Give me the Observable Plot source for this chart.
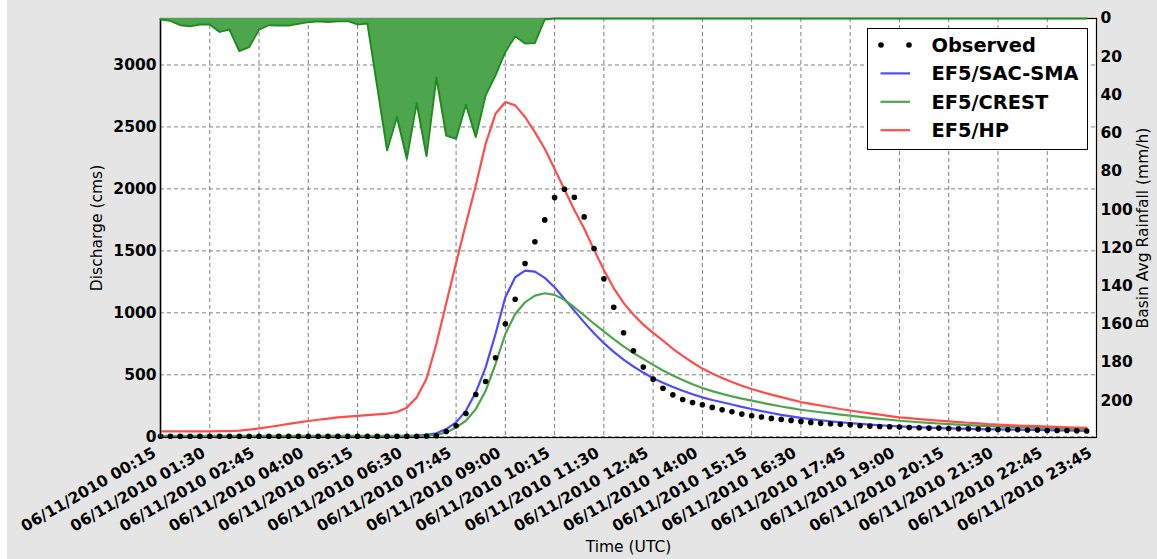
<!DOCTYPE html>
<html>
<head>
<meta charset="utf-8">
<script src="https://cdn.jsdelivr.net/npm/d3@7"></script>
<script src="https://cdn.jsdelivr.net/npm/@observablehq/plot@0.6"></script>
<style>
html, body { margin: 0; padding: 0; background: #ffffff; }
#wrap { position: relative; width: 1157px; height: 559px; background: #ffffff; font-family: "DejaVu Sans", sans-serif; }
#bg { position: absolute; left: 7px; top: 0; width: 1150px; height: 559px; background: #e5e5e5; }
#wrap svg.plotlayer { position: absolute; left: 0; top: 0; }
g[aria-label="x-axis tick label"] text, g[aria-label="y-axis tick label"] text { font-weight: bold; }
g[aria-label="x-axis label"] text, g[aria-label="y-axis label"] text { font-weight: normal; }
#legend { position: absolute; left: 867px; top: 28px; }
</style>
</head>
<body>
<div id="wrap"><div id="bg"></div></div>
<script>
// 15-minute steps, 00:15 (step 0) to 23:45 (step 94)
const steps = d3.range(95);

// x tick positions (in steps) and their labels
const tickSteps = [0, 5, 10, 15, 20, 25, 30, 35, 40, 45, 50, 55, 60, 65, 70, 75, 80, 85, 90, 95];
const tickLabels = [
  "06/11/2010 00:15", "06/11/2010 01:30", "06/11/2010 02:45", "06/11/2010 04:00",
  "06/11/2010 05:15", "06/11/2010 06:30", "06/11/2010 07:45", "06/11/2010 09:00",
  "06/11/2010 10:15", "06/11/2010 11:30", "06/11/2010 12:45", "06/11/2010 14:00",
  "06/11/2010 15:15", "06/11/2010 16:30", "06/11/2010 17:45", "06/11/2010 19:00",
  "06/11/2010 20:15", "06/11/2010 21:30", "06/11/2010 22:45", "06/11/2010 23:45"
];
const dischargeTicks = [0, 500, 1000, 1500, 2000, 2500, 3000];
const rainTicks = [0, 20, 40, 60, 80, 100, 120, 140, 160, 180, 200];

// Observed discharge (cms)
const observed = [
  4, 4, 4, 4, 4, 4, 4, 4, 4, 4, 4, 4, 4, 4, 4, 4, 4, 4, 4, 4, 4, 4, 4, 4, 4, 4, 4, 5,
  8, 43, 89, 188, 341, 446, 637, 911, 1110, 1398, 1573, 1750, 1930, 1997, 1933, 1774,
  1519, 1274, 1045, 839, 694, 562, 465, 391, 338, 301, 277, 258, 237, 218, 202, 183,
  169, 159, 148, 140, 132, 124, 116, 108, 105, 100, 97, 89, 86, 83, 81, 78, 75, 73,
  70, 70, 67, 65, 65, 62, 59, 59, 56, 56, 54, 54, 51, 51, 51, 48, 46
];
// EF5/SAC-SMA simulated discharge (cms)
const sacSma = [
  5, 5, 5, 5, 5, 5, 5, 5, 5, 5, 5, 5, 5, 5, 5, 5, 5, 5, 5, 5, 5, 5, 5, 5, 5,
  7, 9, 15, 28, 62, 116, 210, 358, 560, 829, 1125, 1287, 1341, 1333, 1282, 1206,
  1112, 1018, 923, 835, 755, 685, 622, 567, 518, 472, 436, 402, 371, 343, 318,
  297, 278, 260, 241, 224, 207, 192, 177, 164, 152, 142, 133, 124, 117, 110,
  104, 98, 93, 88, 84, 80, 76, 73, 70, 67, 65, 63, 61, 60, 59, 58, 57, 56, 55,
  54, 52, 51, 49, 48
];
// EF5/CREST simulated discharge (cms)
const crest = [
  8, 8, 8, 8, 8, 8, 8, 8, 8, 8, 8, 8, 8, 8, 8, 8, 8, 8, 8, 8, 8, 8, 8, 8, 8, 8, 8,
  10, 14, 35, 75, 129, 223, 371, 587, 829, 991, 1085, 1139, 1158, 1145, 1105, 1045,
  980, 912, 850, 788, 730, 676, 628, 580, 535, 495, 458, 424, 394, 368, 346, 326,
  308, 291, 275, 259, 244, 231, 218, 208, 198, 188, 179, 170, 161, 153, 145, 137,
  129, 123, 117, 112, 107, 102, 98, 94, 90, 86, 83, 80, 77, 75, 72, 70, 67, 64, 61, 59
];
// EF5/HP simulated discharge (cms)
const hp = [
  43, 43, 43, 43, 44, 44, 45, 46, 50, 58, 67, 79, 91, 104, 116, 127, 137, 147, 156,
  163, 169, 175, 180, 186, 200, 235, 317, 468, 749, 1077, 1403, 1718, 2027, 2364,
  2606, 2701, 2674, 2580, 2458, 2324, 2160, 1995, 1830, 1680, 1510, 1345, 1200,
  1080, 985, 905, 838, 775, 710, 652, 599, 550, 510, 475, 442, 412, 385, 362, 340,
  320, 300, 280, 266, 252, 238, 224, 212, 200, 189, 178, 167, 157, 150, 143, 136,
  130, 124, 118, 113, 108, 102, 98, 95, 91, 88, 85, 82, 79, 76, 73, 71
];
// Basin average rainfall (mm/h)
const rainfall = [
  0.5, 1.2, 3.5, 4.0, 3.1, 3.1, 7.0, 5.8, 17.0, 14.9, 5.8, 3.5, 3.7, 3.7, 2.8, 1.9,
  1.4, 1.8, 1.4, 1.4, 3.1, 2.6, 35.8, 69.0, 51.6, 73.4, 44.2, 72.0, 30.9, 61.3, 62.9,
  45.1, 62.0, 40.2, 29.7, 17.5, 9.3, 13.1, 12.8, 0.5,
  0, 0, 0, 0, 0, 0, 0, 0, 0, 0, 0, 0, 0, 0, 0, 0, 0, 0, 0, 0, 0, 0, 0, 0, 0, 0, 0, 0,
  0, 0, 0, 0, 0, 0, 0, 0, 0, 0, 0, 0, 0, 0, 0, 0, 0, 0, 0, 0, 0, 0, 0, 0, 0, 0, 0
];

const seriesNames = ["Observed", "EF5/SAC-SMA", "EF5/CREST", "EF5/HP"];
const seriesColors = ["#000000", "#4d4dff", "#4da64d", "#ff4d4d"];

const rows = steps.map(i => ({
  i, obs: observed[i], sac: sacSma[i], crest: crest[i], hp: hp[i], rain: rainfall[i]
}));

const W = 1157, H = 559;
const margins = { marginLeft: 160, marginRight: 61, marginTop: 18, marginBottom: 122 };
const font = { background: "transparent", fontFamily: "DejaVu Sans, sans-serif", fontSize: "15.5px", overflow: "visible" };
const grid = { stroke: "#808080", strokeOpacity: 1, strokeWidth: 1, strokeDasharray: "4,3" };

const main = Plot.plot({
  width: W, height: H, ...margins,
  style: font,
  x: { domain: [0, 95] },
  y: { domain: [-6, 3375] },
  marks: [
    Plot.frame({ fill: "white", stroke: "none" }),
    Plot.gridX({ ticks: tickSteps, ...grid }),
    Plot.gridY({ ticks: dischargeTicks, ...grid }),
    Plot.lineY(rows, { x: "i", y: "sac", stroke: seriesColors[1], strokeWidth: 2.2 }),
    Plot.lineY(rows, { x: "i", y: "crest", stroke: seriesColors[2], strokeWidth: 2.2 }),
    Plot.lineY(rows, { x: "i", y: "hp", stroke: seriesColors[3], strokeWidth: 2.2 }),
    Plot.dot(rows, { x: "i", y: "obs", r: 2.8, fill: seriesColors[0], stroke: "none" }),
    Plot.axisY({ ticks: dischargeTicks, tickFormat: d3.format("d"), tickSize: 0, tickPadding: 4, fill: "black",
      label: "Discharge (cms)", labelAnchor: "center", labelOffset: 70, labelArrow: "none" }),
    Plot.axisX({ ticks: tickSteps, tickFormat: d => tickLabels[tickSteps.indexOf(d)],
      tickRotate: -30, tickSize: 0, tickPadding: 14, dx: -6, fill: "black",
      label: "Time (UTC)", labelAnchor: "center", labelOffset: 114, labelArrow: "none" }),
    Plot.ruleX([0], { stroke: "#888888", strokeWidth: 2 }),
    Plot.frame({ stroke: "black", strokeWidth: 1.2 })
  ]
});
main.classList.add("plotlayer");

const rainPlot = Plot.plot({
  width: W, height: H, ...margins,
  style: font,
  x: { domain: [0, 95], axis: null },
  y: { domain: [0, 219.3], reverse: true },
  marks: [
    Plot.areaY(rows, { x: "i", y: "rain", fill: "#4da64d" }),
    Plot.lineY(rows, { x: "i", y: "rain", stroke: "#1f8c1f", strokeWidth: 2 }),
    Plot.axisY({ anchor: "right", ticks: rainTicks, tickFormat: d3.format("d"), tickSize: 0, tickPadding: 4, fill: "black",
      label: "Basin Avg Rainfall (mm/h)", labelAnchor: "center", labelOffset: 51, labelArrow: "none" })
  ]
});
rainPlot.classList.add("plotlayer");

const wrap = document.getElementById("wrap");
wrap.appendChild(main);
wrap.appendChild(rainPlot);

// Legend
const leg = d3.select(wrap).append("svg").attr("id", "legend")
  .attr("width", 221).attr("height", 123);
leg.append("rect").attr("x", 0.5).attr("y", 0.5).attr("width", 220).attr("height", 121)
  .attr("fill", "white").attr("stroke", "black").attr("stroke-width", 1);
seriesNames.forEach((name, k) => {
  const cy = 17 + k * 28.4;
  if (k === 0) {
    [14, 42].forEach(cx => leg.append("circle").attr("cx", cx).attr("cy", cy).attr("r", 2.8).attr("fill", "black"));
  } else {
    leg.append("line").attr("x1", 13.5).attr("x2", 43).attr("y1", cy).attr("y2", cy)
      .attr("stroke", seriesColors[k]).attr("stroke-width", 2.2);
  }
  leg.append("text").attr("x", 64.5).attr("y", cy + 7)
    .attr("font-family", "DejaVu Sans, sans-serif").attr("font-weight", "bold")
    .attr("font-size", "19.4px").attr("fill", "black").text(name);
});
</script>
</body>
</html>
